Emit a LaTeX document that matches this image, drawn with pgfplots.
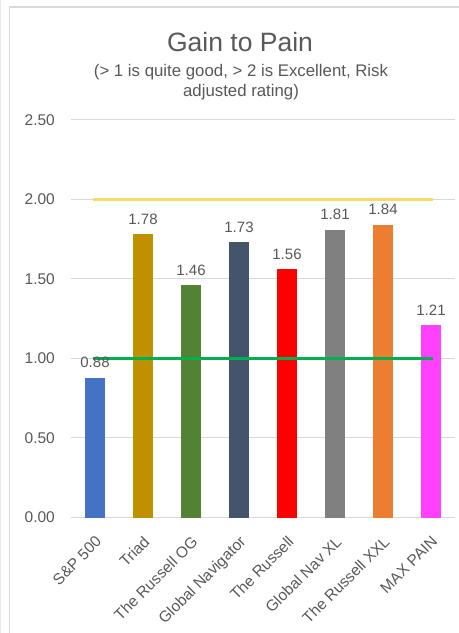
\documentclass[border=0pt]{standalone}
\usepackage{pgfplots}
\pgfplotsset{compat=1.18}
\usepackage{fontspec}
\setmainfont{Liberation Sans}
\definecolor{txt}{HTML}{595959}
\definecolor{gridc}{HTML}{D9D9D9}
\definecolor{c1}{HTML}{4472C4}
\definecolor{c2}{HTML}{BF9000}
\definecolor{c3}{HTML}{548235}
\definecolor{c4}{HTML}{44546A}
\definecolor{c5}{HTML}{FF0000}
\definecolor{c6}{HTML}{808080}
\definecolor{c7}{HTML}{ED7D31}
\definecolor{c8}{HTML}{FF40FF}
\definecolor{yel}{HTML}{FFD966}
\definecolor{grn}{HTML}{00B050}
\begin{document}
\begin{tikzpicture}
\useasboundingbox (0bp,0bp) rectangle (459bp,633bp);
\fill[white] (0bp,0bp) rectangle (459bp,633bp);
\draw[gray!18, line width=1bp] (0.5bp,0bp) -- (0.5bp,633bp);
\draw[gray!30, line width=1.2bp] (9.5bp,0bp) -- (9.5bp,626bp) -- (459bp,626bp);
\node[anchor=base, text=txt, font=\fontsize{26.5bp}{30bp}\selectfont] at (240bp,581bp) {Gain to Pain};
\node[anchor=base, text=txt, font=\fontsize{16.8bp}{20bp}\selectfont] at (241bp,556bp) {(> 1 is quite good, > 2 is Excellent, Risk};
\node[anchor=base, text=txt, font=\fontsize{16.8bp}{20bp}\selectfont] at (241bp,536bp) {adjusted rating)};
\begin{axis}[
  at={(71bp,115.5bp)}, anchor=south west,
  scale only axis, width=384bp, height=397.5bp,
  xmin=-0.5, xmax=7.5, ymin=0, ymax=2.5,
  ytick={0,0.5,1,1.5,2,2.5},
  xtick={0,1,2,3,4,5,6,7},
  xticklabels={S\&P 500, Triad, The Russell OG, Global Navigator, The Russell, Global Nav XL, The Russell XXL, MAX PAIN},
  ymajorgrids, grid style={gridc, line width=1bp},
  axis x line*=bottom, axis y line*=left,
  x axis line style={gridc, line width=1bp, -},
  y axis line style={draw=none},
  major tick length=0pt,
  /pgf/number format/.cd, fixed, fixed zerofill, precision=2, assume math mode=true, /pgfplots/.cd,
  yticklabel style={text=txt, font=\fontsize{15.5bp}{18bp}\selectfont, anchor=east, inner sep=0pt, xshift=-16bp},
  xticklabel style={text=txt, font=\fontsize{15.5bp}{18bp}\selectfont, rotate=45, anchor=north east, inner sep=0pt, xshift=-12.5bp, yshift=-12bp},
  every node near coord/.append style={text=txt, font=\fontsize{15bp}{18bp}\selectfont, anchor=base, yshift=10bp, inner sep=0pt},
  nodes near coords={\pgfmathprintnumber[fixed,fixed zerofill,precision=2,assume math mode=true]{\pgfplotspointmeta}},
  clip=false,
]
\addplot[ybar, bar width=20bp, bar shift=0pt, fill=c1, draw=none] coordinates {(0,0.88)};
\addplot[ybar, bar width=20bp, bar shift=0pt, fill=c2, draw=none] coordinates {(1,1.78)};
\addplot[ybar, bar width=20bp, bar shift=0pt, fill=c3, draw=none] coordinates {(2,1.46)};
\addplot[ybar, bar width=20bp, bar shift=0pt, fill=c4, draw=none] coordinates {(3,1.73)};
\addplot[ybar, bar width=20bp, bar shift=0pt, fill=c5, draw=none] coordinates {(4,1.56)};
\addplot[ybar, bar width=20bp, bar shift=0pt, fill=c6, draw=none] coordinates {(5,1.81)};
\addplot[ybar, bar width=20bp, bar shift=0pt, fill=c7, draw=none] coordinates {(6,1.84)};
\addplot[ybar, bar width=20bp, bar shift=0pt, fill=c8, draw=none] coordinates {(7,1.21)};
\addplot[yel, line width=3bp, no marks, nodes near coords={}] coordinates {(-0.04,2) (7.04,2)};
\addplot[grn, line width=3bp, no marks, nodes near coords={}] coordinates {(-0.04,1) (7.04,1)};
\end{axis}
\end{tikzpicture}
\end{document}
